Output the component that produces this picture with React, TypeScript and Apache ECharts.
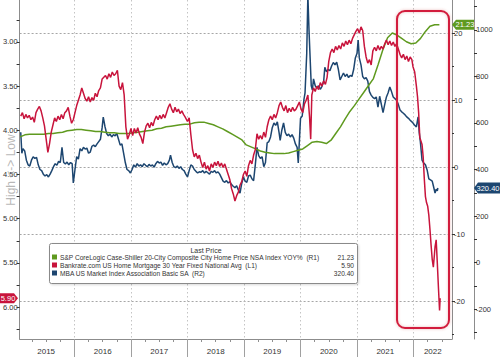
import React, { useEffect, useRef } from "react";
import * as echarts from "echarts";

// ---------- DATA ----------
// S&P CoreLogic Case-Shiller 20-City YoY % (monthly, Jan 2015 .. Jun 2022)
const caseShillerStartYear = 2015;
const caseShiller: number[] = [
  // 2015
  4.5, 4.8, 4.9, 4.9, 4.9, 4.9, 5.0, 5.0, 5.1, 5.2, 5.4, 5.5,
  // 2016
  5.6, 5.6, 5.5, 5.4, 5.3, 5.3, 5.2, 5.1, 5.1, 5.0, 5.0, 5.0,
  // 2017
  5.1, 5.2, 5.3, 5.4, 5.5, 5.7, 5.8, 6.0, 6.1, 6.2, 6.3, 6.4,
  // 2018
  6.4, 6.6, 6.7, 6.7, 6.5, 6.3, 6.0, 5.7, 5.3, 4.9, 4.5, 4.1,
  // 2019
  3.3, 3.0, 2.7, 2.4, 2.2, 2.1, 2.0, 2.0, 2.0, 2.1, 2.3, 2.5,
  // 2020
  2.7, 3.2, 3.7, 3.8, 3.7, 3.5, 4.0, 5.0, 6.0, 7.2, 8.3, 9.2,
  // 2021
  10.2, 11.2, 12.2, 13.2, 15.3, 17.5, 19.3, 20.0, 19.7, 19.2, 18.7, 18.4,
  // 2022
  18.5, 19.2, 20.2, 21.0, 21.23, 21.23,
];

// Bankrate.com 30Y fixed mortgage rate (%), [decimal year, value]
const bankrate: [number, number][] = [
  [2015.05, 3.84], [2015.08, 3.8], [2015.11, 3.87], [2015.14, 3.82], [2015.17, 3.86], [2015.2, 3.83],
  [2015.23, 3.88], [2015.26, 3.85], [2015.29, 3.91], [2015.32, 3.8], [2015.35, 3.76], [2015.38, 3.73],
  [2015.41, 3.78], [2015.44, 3.86], [2015.47, 3.95], [2015.5, 4.1], [2015.53, 4.25], [2015.56, 4.15],
  [2015.59, 4.02], [2015.62, 3.94], [2015.65, 3.86], [2015.68, 3.9], [2015.71, 3.84], [2015.74, 3.88],
  [2015.77, 3.82], [2015.8, 3.87], [2015.83, 3.8], [2015.86, 3.78], [2015.89, 3.74], [2015.92, 3.84],
  [2015.95, 3.92], [2015.98, 3.88],
  [2016.01, 3.8], [2016.04, 3.72], [2016.07, 3.66], [2016.1, 3.6], [2016.13, 3.52], [2016.16, 3.58],
  [2016.19, 3.64], [2016.22, 3.67], [2016.25, 3.62], [2016.28, 3.68], [2016.31, 3.63], [2016.34, 3.66],
  [2016.37, 3.58], [2016.4, 3.62], [2016.43, 3.55], [2016.46, 3.52], [2016.49, 3.42], [2016.52, 3.4],
  [2016.55, 3.38], [2016.58, 3.42], [2016.61, 3.36], [2016.64, 3.4], [2016.67, 3.34], [2016.7, 3.38],
  [2016.73, 3.36], [2016.76, 3.32], [2016.79, 3.5], [2016.82, 3.54], [2016.85, 3.46], [2016.88, 3.6],
  [2016.91, 3.96], [2016.94, 4.1], [2016.97, 4.05],
  [2017.0, 3.98], [2017.03, 4.06], [2017.06, 3.98], [2017.09, 4.03], [2017.12, 3.97], [2017.15, 4.04],
  [2017.18, 4.08], [2017.21, 4.15], [2017.24, 4.02], [2017.27, 3.95], [2017.3, 3.92], [2017.33, 3.97],
  [2017.36, 3.91], [2017.39, 3.95], [2017.42, 3.88], [2017.45, 3.84], [2017.48, 3.88], [2017.51, 3.83],
  [2017.54, 3.87], [2017.57, 3.82], [2017.6, 3.86], [2017.63, 3.8], [2017.66, 3.74], [2017.69, 3.7],
  [2017.72, 3.76], [2017.75, 3.8], [2017.78, 3.74], [2017.81, 3.79], [2017.84, 3.76], [2017.87, 3.81],
  [2017.9, 3.78], [2017.93, 3.82], [2017.96, 3.85],
  [2018.0, 3.9], [2018.03, 3.86], [2018.06, 4.05], [2018.09, 4.22], [2018.12, 4.3], [2018.15, 4.26],
  [2018.18, 4.32], [2018.21, 4.28], [2018.24, 4.36], [2018.27, 4.42], [2018.3, 4.36], [2018.33, 4.44],
  [2018.36, 4.4], [2018.39, 4.46], [2018.42, 4.38], [2018.45, 4.42], [2018.48, 4.36], [2018.51, 4.4],
  [2018.54, 4.35], [2018.57, 4.41], [2018.6, 4.37], [2018.63, 4.42], [2018.66, 4.38], [2018.69, 4.44],
  [2018.72, 4.5], [2018.75, 4.56], [2018.78, 4.66], [2018.81, 4.72], [2018.84, 4.8], [2018.87, 4.74],
  [2018.9, 4.7], [2018.93, 4.62], [2018.96, 4.58], [2018.99, 4.5],
  [2019.02, 4.46], [2019.05, 4.52], [2019.08, 4.4], [2019.11, 4.34], [2019.14, 4.38], [2019.17, 4.28],
  [2019.2, 4.22], [2019.23, 4.04], [2019.26, 4.1], [2019.29, 4.06], [2019.32, 4.1], [2019.35, 4.02],
  [2019.38, 4.08], [2019.41, 3.96], [2019.44, 3.88], [2019.47, 3.84], [2019.5, 3.88], [2019.53, 3.82],
  [2019.56, 3.86], [2019.59, 3.8], [2019.62, 3.72], [2019.65, 3.68], [2019.68, 3.74], [2019.71, 3.78],
  [2019.74, 3.72], [2019.77, 3.8], [2019.8, 3.75], [2019.83, 3.79], [2019.86, 3.74], [2019.89, 3.78],
  [2019.92, 3.76], [2019.95, 3.72], [2019.98, 3.68],
  [2020.01, 3.76], [2020.04, 3.8], [2020.07, 3.7], [2020.1, 3.66], [2020.13, 3.6], [2020.16, 3.85],
  [2020.18, 4.1], [2020.2, 3.6], [2020.23, 3.52], [2020.26, 3.56], [2020.29, 3.5], [2020.32, 3.54],
  [2020.35, 3.46], [2020.38, 3.5], [2020.41, 3.44], [2020.44, 3.48], [2020.47, 3.4], [2020.5, 3.22],
  [2020.53, 3.12], [2020.56, 3.08], [2020.59, 3.12], [2020.62, 3.05], [2020.65, 3.09], [2020.68, 3.04],
  [2020.71, 3.08], [2020.74, 3.01], [2020.77, 3.05], [2020.8, 2.99], [2020.83, 3.03], [2020.86, 2.98],
  [2020.89, 3.02], [2020.92, 2.96], [2020.95, 2.92], [2020.98, 2.88],
  [2021.01, 2.85], [2021.04, 2.9], [2021.07, 2.83], [2021.1, 2.87], [2021.13, 3.05], [2021.16, 3.17],
  [2021.19, 3.24], [2021.22, 3.2], [2021.25, 3.26], [2021.28, 3.1], [2021.31, 3.06], [2021.34, 3.1],
  [2021.37, 3.04], [2021.4, 3.09], [2021.43, 3.05], [2021.46, 3.08], [2021.49, 3.02], [2021.52, 2.98],
  [2021.55, 3.03], [2021.58, 2.99], [2021.61, 3.04], [2021.64, 3.0], [2021.67, 3.05], [2021.7, 3.02],
  [2021.73, 3.08], [2021.76, 3.14], [2021.79, 3.18], [2021.82, 3.14], [2021.85, 3.2], [2021.88, 3.16],
  [2021.91, 3.22], [2021.94, 3.17], [2021.97, 3.2], [2021.99, 3.28],
  [2022.02, 3.34], [2022.05, 3.5], [2022.07, 3.62], [2022.09, 3.8], [2022.11, 4.08], [2022.13, 4.12],
  [2022.15, 4.16], [2022.17, 4.3], [2022.19, 4.55], [2022.21, 4.75], [2022.23, 4.82], [2022.25, 4.86],
  [2022.27, 4.96], [2022.29, 5.12], [2022.31, 5.3], [2022.33, 5.46], [2022.35, 5.55], [2022.37, 5.4],
  [2022.38, 5.32], [2022.4, 5.24], [2022.42, 5.5], [2022.44, 5.78], [2022.46, 6.04], [2022.47, 5.9],
];

// MBA US Market Index (Basic SA), [decimal year, value]
const mba: [number, number][] = [
  [2015.05, 560], [2015.07, 470], [2015.09, 490], [2015.12, 480], [2015.15, 440], [2015.18, 420],
  [2015.21, 415], [2015.24, 440], [2015.27, 455], [2015.3, 448], [2015.33, 452], [2015.36, 420],
  [2015.39, 400], [2015.42, 395], [2015.45, 380], [2015.48, 372], [2015.51, 378], [2015.54, 368],
  [2015.57, 380], [2015.6, 395], [2015.63, 412], [2015.66, 425], [2015.69, 418], [2015.72, 435],
  [2015.75, 430], [2015.78, 495], [2015.81, 430], [2015.84, 424], [2015.87, 432], [2015.9, 420],
  [2015.93, 430], [2015.96, 425], [2015.98, 342],
  [2016.01, 400], [2016.04, 455], [2016.07, 445], [2016.1, 490], [2016.13, 480], [2016.16, 495],
  [2016.19, 488], [2016.22, 492], [2016.25, 470], [2016.28, 475], [2016.31, 500], [2016.34, 505],
  [2016.37, 498], [2016.4, 510], [2016.43, 520], [2016.46, 530], [2016.49, 580], [2016.51, 625],
  [2016.54, 585], [2016.57, 555], [2016.6, 545], [2016.63, 552], [2016.66, 540], [2016.69, 550],
  [2016.72, 545], [2016.75, 555], [2016.78, 530], [2016.81, 505], [2016.84, 510], [2016.87, 470],
  [2016.9, 430], [2016.93, 400], [2016.96, 395], [2016.99, 385],
  [2017.02, 400], [2017.05, 420], [2017.08, 410], [2017.11, 425], [2017.14, 415], [2017.17, 420],
  [2017.2, 412], [2017.23, 425], [2017.26, 418], [2017.29, 412], [2017.32, 422], [2017.35, 415],
  [2017.38, 420], [2017.41, 410], [2017.44, 425], [2017.47, 435], [2017.5, 428], [2017.53, 432],
  [2017.56, 418], [2017.59, 428], [2017.62, 420], [2017.65, 425], [2017.68, 440], [2017.7, 462],
  [2017.73, 430], [2017.76, 412], [2017.79, 408], [2017.82, 415], [2017.85, 405], [2017.88, 412],
  [2017.91, 400], [2017.94, 395], [2017.97, 380],
  [2018.0, 368], [2018.03, 395], [2018.06, 420], [2018.09, 415], [2018.12, 400], [2018.15, 392],
  [2018.18, 385], [2018.21, 390], [2018.24, 388], [2018.27, 395], [2018.3, 385], [2018.33, 392],
  [2018.36, 386], [2018.39, 380], [2018.42, 392], [2018.45, 388], [2018.48, 395], [2018.51, 385],
  [2018.54, 390], [2018.57, 380], [2018.6, 365], [2018.63, 350], [2018.66, 345], [2018.69, 352],
  [2018.72, 342], [2018.75, 348], [2018.78, 335], [2018.81, 328], [2018.84, 322], [2018.87, 330],
  [2018.9, 312], [2018.93, 298], [2018.96, 340], [2018.99, 368],
  [2019.02, 350], [2019.05, 345], [2019.08, 372], [2019.11, 376], [2019.14, 360], [2019.17, 352],
  [2019.2, 420], [2019.23, 495], [2019.26, 460], [2019.29, 448], [2019.32, 455], [2019.35, 412],
  [2019.38, 430], [2019.41, 515], [2019.44, 520], [2019.47, 540], [2019.5, 580], [2019.53, 600],
  [2019.56, 590], [2019.59, 605], [2019.62, 560], [2019.64, 525], [2019.67, 570], [2019.7, 600],
  [2019.73, 560], [2019.76, 545], [2019.79, 552], [2019.82, 540], [2019.85, 550], [2019.88, 535],
  [2019.91, 510], [2019.94, 495], [2019.96, 428],
  [2020.0, 620], [2020.03, 630], [2020.06, 700], [2020.08, 730], [2020.11, 900], [2020.13, 1150],
  [2020.15, 1000], [2020.17, 880], [2020.19, 760], [2020.21, 742], [2020.23, 790], [2020.26, 760],
  [2020.29, 750], [2020.32, 760], [2020.35, 745], [2020.38, 758], [2020.41, 780], [2020.43, 840],
  [2020.46, 820], [2020.49, 830], [2020.52, 825], [2020.55, 845], [2020.58, 860], [2020.61, 850],
  [2020.64, 862], [2020.67, 830], [2020.7, 785], [2020.73, 800], [2020.76, 815], [2020.79, 800],
  [2020.82, 810], [2020.85, 795], [2020.88, 805], [2020.91, 800], [2020.94, 830], [2020.97, 880],
  [2021.0, 900], [2021.02, 957], [2021.04, 880], [2021.07, 850], [2021.1, 800], [2021.13, 790],
  [2021.16, 795], [2021.19, 780], [2021.22, 735], [2021.25, 720], [2021.28, 710], [2021.31, 705],
  [2021.34, 712], [2021.37, 668], [2021.4, 715], [2021.43, 680], [2021.46, 645], [2021.49, 680],
  [2021.52, 712], [2021.55, 730], [2021.58, 755], [2021.61, 735], [2021.64, 712], [2021.67, 705],
  [2021.7, 698], [2021.73, 680], [2021.76, 656], [2021.79, 648], [2021.82, 642], [2021.85, 635],
  [2021.88, 626], [2021.91, 620], [2021.94, 612], [2021.97, 605], [2021.99, 600],
  [2022.02, 590], [2022.05, 583], [2022.08, 626], [2022.1, 560], [2022.12, 520], [2022.15, 440],
  [2022.18, 428], [2022.21, 420], [2022.24, 398], [2022.27, 360], [2022.3, 355], [2022.33, 350],
  [2022.35, 330], [2022.38, 299], [2022.4, 315], [2022.42, 308], [2022.43, 320.4],
];

// Axis ticks / labels
const yearBoundaries = [2016, 2017, 2018, 2019, 2020, 2021, 2022];
const yearLabelPositions = [2015.5, 2016.5, 2017.5, 2018.5, 2019.5, 2020.5, 2021.5, 2022.34];
const quarterTicks = [2015.25, 2015.5, 2015.75, 2016.25, 2016.5, 2016.75, 2017.25, 2017.5, 2017.75,
  2018.25, 2018.5, 2018.75, 2019.25, 2019.5, 2019.75, 2020.25, 2020.5, 2020.75, 2021.25, 2021.5,
  2021.75, 2022.25, 2022.5];
const leftLabels = [3.0, 3.5, 4.0, 4.5, 5.0, 5.5, 6.0];
const leftTicks = [2.75, 3.0, 3.25, 3.5, 3.75, 4.0, 4.25, 4.5, 4.75, 5.0, 5.25, 5.5, 5.75, 6.0, 6.25];
const r1Labels = [-20, -10, 0, 10, 20];
const r2Labels = [-200, 0, 200, 400, 600, 800, 1000];
const r2Ticks = [-300, -200, -100, 0, 100, 200, 300, 400, 500, 600, 700, 800, 900, 1000, 1100];

const legendTitle = "Last Price";
const legendNames = [
  "S&P CoreLogic Case-Shiller 20-City Composite City Home Price NSA Index YOY%  (R1)",
  "Bankrate.com US Home Mortgage 30 Year Fixed National Avg  (L1)",
  "MBA US Market Index Association Basic SA  (R2)",
];
const axisName = "High <-> Low";

// ---------- STYLE ----------
const GREEN = "#5f9a1f";
const RED = "#c8143c";
const BLUE = "#1d4670";
const FONT = "Liberation Sans";
const AXIS_GRAY = "#8c8c8c";
const GRID_GRAY = "#c4c4c4";
const HGRID_GRAY = "#a6a6a6";

const X_MIN = 2015.03;
const X_MAX = 2022.68;

export default function App() {
  const ref = useRef<HTMLDivElement | null>(null);

  useEffect(() => {
    document.body.style.margin = "0";
    if (!ref.current) return;
    const chart = echarts.init(ref.current, undefined, { renderer: "svg" });

    const greenData = caseShiller.map((v, i) => [
      caseShillerStartYear + i / 12 + 0.04,
      v,
    ]);

    const option: any = {
      animation: false,
      backgroundColor: "#ffffff",
      grid: { left: 19, right: 48, top: 0, bottom: 18, containLabel: false },
      xAxis: [
        {
          type: "value",
          min: X_MIN,
          max: X_MAX,
          position: "bottom",
          axisLine: { show: true, onZero: false, lineStyle: { color: AXIS_GRAY, width: 1 } },
          axisTick: {
            show: true,
            customValues: yearBoundaries,
            length: 18,
            lineStyle: { color: "#a0a0a0", width: 1 },
          },
          axisLabel: {
            customValues: yearLabelPositions,
            formatter: (v: number) => String(Math.floor(v + 1e-6)),
            fontSize: 8,
            color: "#333",
            margin: 8,
            fontFamily: FONT,
          },
          splitLine: { show: true, lineStyle: { type: [1.5, 2.5], color: GRID_GRAY, width: 1 } },
        },
        {
          type: "value",
          min: X_MIN,
          max: X_MAX,
          position: "bottom",
          axisLine: { show: false, onZero: false },
          axisTick: { show: true, customValues: quarterTicks, length: 3, lineStyle: { color: "#909090" } },
          axisLabel: { show: false },
          splitLine: { show: false },
        },
      ],
      yAxis: [
        {
          type: "value",
          position: "left",
          inverse: true,
          min: 2.525,
          max: 6.362,
          axisLine: { show: true, onZero: false, lineStyle: { color: AXIS_GRAY } },
          axisTick: { show: true, customValues: leftTicks, length: 3, lineStyle: { color: "#333" } },
          axisLabel: {
            customValues: leftLabels,
            formatter: (v: number) => v.toFixed(2),
            fontSize: 7.5,
            color: "#333",
            margin: 2,
            fontFamily: FONT,
          },
          splitLine: { show: false },
        },
        {
          type: "value",
          position: "right",
          offset: 0,
          min: -25.67,
          max: 24.93,
          axisLine: { show: true, onZero: false, lineStyle: { color: AXIS_GRAY } },
          axisTick: { show: true, customValues: r1Labels, length: 3, lineStyle: { color: "#333" } },
          minorTick: { show: true, splitNumber: 2, length: 2, lineStyle: { color: "#333" } },
          axisLabel: {
            customValues: r1Labels,
            formatter: (v: number) => String(v),
            fontSize: 7.5,
            color: "#333",
            margin: 2,
            fontFamily: FONT,
          },
          splitLine: { show: true, lineStyle: { type: [2, 2], color: HGRID_GRAY, width: 1 } },
        },
        {
          type: "value",
          position: "right",
          offset: 22,
          min: -329,
          max: 1129,
          axisLine: { show: true, onZero: false, lineStyle: { color: AXIS_GRAY } },
          axisTick: { show: true, customValues: r2Ticks, length: 3, lineStyle: { color: "#333" } },
          axisLabel: {
            customValues: r2Labels,
            formatter: (v: number) => String(v),
            fontSize: 7.5,
            color: "#333",
            margin: 2,
            fontFamily: FONT,
          },
          splitLine: { show: false },
        },
      ],
      series: [
        {
          name: "MBA",
          type: "line",
          xAxisIndex: 0,
          yAxisIndex: 2,
          data: mba,
          showSymbol: false,
          lineStyle: { color: BLUE, width: 1.5 },
          itemStyle: { color: BLUE },
          z: 2,
        },
        {
          name: "CaseShiller",
          type: "line",
          xAxisIndex: 0,
          yAxisIndex: 1,
          data: greenData,
          showSymbol: false,
          lineStyle: { color: GREEN, width: 1.5 },
          itemStyle: { color: GREEN },
          z: 3,
        },
        {
          name: "Bankrate",
          type: "line",
          xAxisIndex: 0,
          yAxisIndex: 0,
          data: bankrate,
          showSymbol: false,
          lineStyle: { color: RED, width: 1.5 },
          itemStyle: { color: RED },
          z: 4,
        },
      ],
    };

    chart.setOption(option);

    const lastGreen = caseShiller[caseShiller.length - 1];
    const lastRed = bankrate[bankrate.length - 1][1];
    const lastBlue = mba[mba.length - 1][1];
    const yG = chart.convertToPixel({ yAxisIndex: 1 }, lastGreen) as number;
    const yR = chart.convertToPixel({ yAxisIndex: 0 }, lastRed) as number;
    const yB = chart.convertToPixel({ yAxisIndex: 2 }, lastBlue) as number;

    const tagText = (x: number, y: number, text: string) => ({
      type: "text",
      x,
      y,
      z: 101,
      style: {
        text,
        fill: "#fff",
        font: `7.5px ${FONT}`,
        align: "center",
        verticalAlign: "middle",
      },
    });

    const legendValues = [
      lastGreen.toFixed(2),
      lastRed.toFixed(2),
      lastBlue.toFixed(2),
    ];
    const legendColors = [GREEN, RED, BLUE];
    const legendRowsY = [257, 265, 273];

    const graphic: any[] = [
      {
        type: "text",
        x: 11,
        y: 170,
        rotation: Math.PI / 2,
        z: 50,
        style: {
          text: axisName,
          fill: "rgba(160,160,160,0.75)",
          font: `12px ${FONT}`,
          align: "center",
          verticalAlign: "middle",
        },
      },
      {
        type: "rect",
        z: 60,
        shape: { x: 397, y: 11, width: 52, height: 317, r: 8 },
        style: {
          fill: "none",
          stroke: "#d21f3e",
          lineWidth: 2,
          shadowBlur: 3,
          shadowColor: "rgba(200,60,60,0.35)",
        },
      },
      {
        type: "rect",
        z: 70,
        shape: { x: 49.5, y: 243.5, width: 308, height: 40, r: 2 },
        style: {
          fill: "#ffffff",
          stroke: "#8a8a8a",
          lineWidth: 1,
          shadowBlur: 2,
          shadowColor: "rgba(0,0,0,0.15)",
          shadowOffsetX: 1,
          shadowOffsetY: 1,
        },
      },
      {
        type: "text",
        z: 71,
        x: 206,
        y: 250,
        style: {
          text: legendTitle,
          fill: "#333",
          font: `7px ${FONT}`,
          align: "center",
          verticalAlign: "middle",
        },
      },
      {
        type: "polygon",
        z: 100,
        shape: {
          points: [
            [452, yG],
            [456, yG - 5],
            [474, yG - 5],
            [474, yG + 5],
            [456, yG + 5],
          ],
        },
        style: { fill: GREEN },
      },
      tagText(465, yG, lastGreen.toFixed(2)),
      {
        type: "polygon",
        z: 100,
        shape: {
          points: [
            [474, yB],
            [478, yB - 5.5],
            [500, yB - 5.5],
            [500, yB + 5.5],
            [478, yB + 5.5],
          ],
        },
        style: { fill: BLUE },
      },
      tagText(488, yB, lastBlue.toFixed(2)),
      {
        type: "polygon",
        z: 100,
        shape: {
          points: [
            [0, yR - 5],
            [14, yR - 5],
            [18, yR],
            [14, yR + 5],
            [0, yR + 5],
          ],
        },
        style: { fill: RED },
      },
      tagText(8, yR, lastRed.toFixed(2)),
    ];

    legendNames.forEach((name, i) => {
      const y = legendRowsY[i];
      graphic.push({
        type: "rect",
        z: 71,
        shape: { x: 52, y: y - 2.5, width: 5, height: 5 },
        style: { fill: legendColors[i] },
      });
      graphic.push({
        type: "text",
        z: 71,
        x: 60,
        y,
        style: {
          text: name,
          fill: "#333",
          font: `6.6px ${FONT}`,
          align: "left",
          verticalAlign: "middle",
        },
      });
      graphic.push({
        type: "text",
        z: 71,
        x: 354,
        y,
        style: {
          text: legendValues[i],
          fill: "#333",
          font: `6.6px ${FONT}`,
          align: "right",
          verticalAlign: "middle",
        },
      });
    });

    chart.setOption({ graphic });

    return () => {
      chart.dispose();
    };
  }, []);

  return <div ref={ref} style={{ width: 500, height: 357 }} />;
}
